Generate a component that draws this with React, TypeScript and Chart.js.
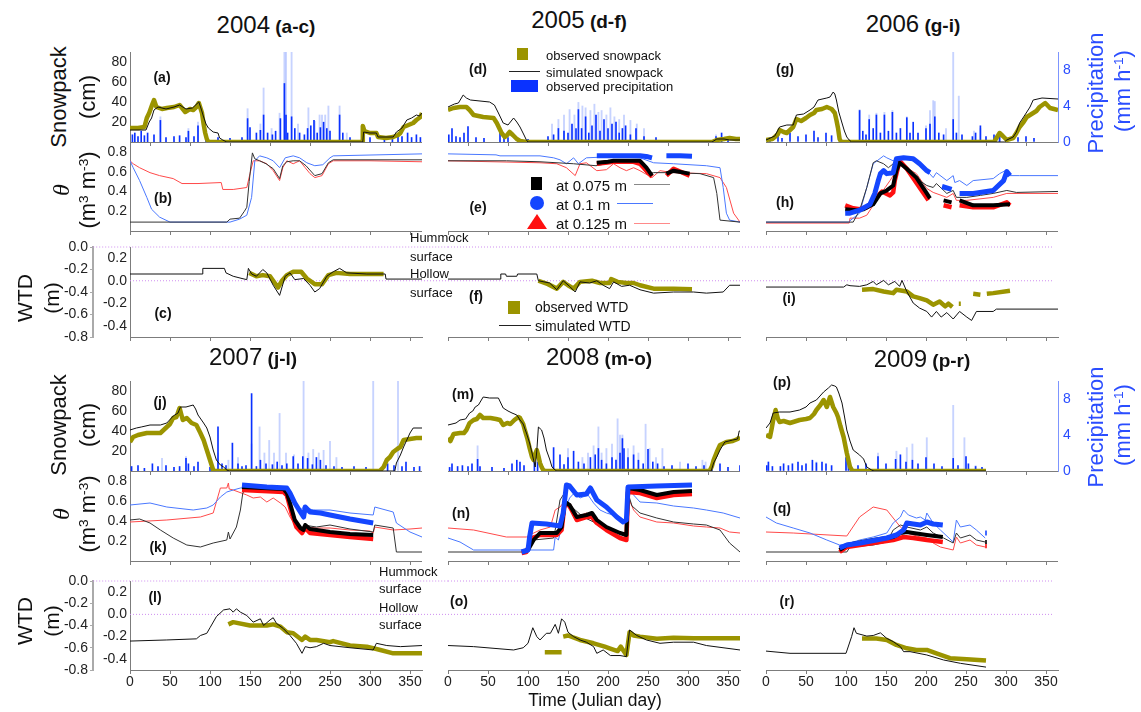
import React, { useEffect, useRef } from 'react';
import { Chart, registerables } from 'chart.js';
Chart.register(...registerables);

type Pt = [number, number | null];

// ---------- tick values ----------
const dayTicks = [0, 50, 100, 150, 200, 250, 300, 350];
const snowTicks = [20, 40, 60, 80];
const precipTicks = [0, 4, 8];
const thetaTicks = [0.2, 0.4, 0.6, 0.8];
const wtdTicks = [-0.4, -0.2, 0, 0.2];
const hummockTicks = [-0.8, -0.6, -0.4, -0.2, 0];

// reference surfaces (WTD, relative to hollow surface)
const hummockLevel = 0.3;
const hollowLevel = 0;

// ---------- 2004 ----------
const snowObs2004: Pt[] = [[0,14],[10,14],[18,15],[21,24],[24,29],[28,38],[30,42],[33,35],[40,33],[46,34],[55,35],[62,37],[66,33],[69,30],[75,33],[79,32],[83,35],[86,39],[88,34],[90,29],[92,18],[94,9],[96,3],[98,0],[290,0],[291,16],[293,11],[300,9],[308,9],[310,5],[320,4],[329,5],[335,7],[338,9],[342,15],[348,17],[354,19],[358,22],[363,25],[365,29]];
const snowSim2004: Pt[] = [[0,12],[20,12],[24,20],[27,24],[30,32],[35,35],[45,33],[55,35],[62,37],[70,33],[78,34],[86,40],[89,33],[92,25],[95,18],[98,14],[104,10],[110,9],[112,4],[116,2],[121,0],[291,0],[292,10],[300,9],[308,9],[310,5],[329,5],[333,10],[340,14],[346,22],[352,24],[358,27],[362,26],[365,29]];
const precip2004: Pt[] = [[3,0.8],[6,1],[10,0.6],[14,1.2],[18,0.7],[22,1],[30,0.8],[38,2.4],[45,0.5],[55,0.6],[62,0.7],[70,0.5],[73,1.2],[80,0.6],[85,1.8],[95,0.4],[110,0.5],[125,0.4],[140,0.5],[147,2.6],[150,1.6],[158,1],[163,1.3],[167,3],[172,1],[178,0.8],[182,1.2],[188,2.6],[193,6.5],[195,3],[197,1],[202,2.8],[206,1.5],[212,1],[218,0.8],[222,1.5],[226,1.8],[230,2.4],[234,1],[238,1.6],[242,2.2],[246,1.5],[250,1.2],[262,3],[266,1],[275,0.5],[290,0.4],[300,0.5],[318,0.6],[328,0.5],[335,0.8],[340,0.6],[347,1],[352,0.5],[358,0.8],[363,0.5]];
const precipLight2004: Pt[] = [[38,2.8],[73,1.5],[85,2.2],[147,3.7],[163,2],[167,6],[177,1.5],[187,3.2],[193,12],[195,12],[202,12],[210,2],[223,3.8],[231,2.3],[237,3],[240,3],[244,3],[248,4],[262,4],[271,1],[290,0.8]];
const thetaSim075_2004: Pt[] = [[0,0.09],[121,0.09],[125,0.12],[137,0.13],[143,0.2],[146,0.24],[149,0.5],[153,0.79],[156,0.73],[162,0.71],[170,0.68],[179,0.63],[187,0.53],[191,0.66],[196,0.7],[204,0.71],[212,0.71],[220,0.66],[231,0.56],[240,0.58],[248,0.69],[254,0.72],[365,0.72]];
const thetaSim100_2004: Pt[] = [[0,0.71],[4,0.64],[12,0.51],[21,0.34],[27,0.22],[37,0.14],[50,0.09],[125,0.09],[137,0.12],[146,0.16],[152,0.34],[156,0.71],[162,0.76],[171,0.74],[179,0.71],[187,0.64],[194,0.74],[204,0.76],[212,0.74],[221,0.69],[231,0.66],[241,0.67],[250,0.74],[254,0.76],[365,0.78]];
const thetaSim125_2004: Pt[] = [[0,0.71],[4,0.68],[12,0.64],[25,0.59],[37,0.56],[54,0.53],[65,0.48],[85,0.48],[114,0.49],[116,0.42],[129,0.42],[146,0.44],[150,0.58],[154,0.71],[162,0.71],[171,0.68],[179,0.61],[187,0.51],[191,0.64],[196,0.71],[204,0.68],[212,0.71],[219,0.64],[225,0.58],[231,0.54],[240,0.56],[248,0.68],[254,0.71],[300,0.71],[365,0.70]];
const thetaObs075_2004: Pt[] = [];
const thetaObs100_2004: Pt[] = [];
const thetaObs125_2004: Pt[] = [];
const wtdSim2004: Pt[] = [[0,0.06],[90,0.06],[91,0.11],[118,0.11],[120,0.07],[129,0.04],[140,0.02],[146,0.01],[148,0.11],[152,0.06],[158,0.04],[166,0.1],[171,0.07],[179,-0.04],[187,-0.13],[194,0.04],[200,0.07],[206,0.01],[217,0.02],[225,-0.04],[231,-0.1],[237,-0.07],[246,0.04],[254,0.08],[262,0.11],[271,0.07],[296,0.06],[319,0.06],[320,0.015],[365,0.015]];
const wtdObs2004: Pt[] = [[149,0.07],[158,0.04],[166,0.05],[175,0.04],[185,-0.06],[190,0.0],[196,0.05],[204,0.08],[214,0.08],[221,0.02],[231,-0.03],[240,-0.03],[248,0.05],[258,0.07],[275,0.06],[296,0.06],[317,0.06]];

// ---------- 2005 ----------
const snowObs2005: Pt[] = [[0,32],[7,34],[15,35],[23,35],[27,32],[32,27],[44,25],[57,24],[61,19],[64,14],[67,9],[71,5],[74,7],[77,10],[81,7],[86,3],[90,1],[98,0],[330,0],[336,2],[345,3],[352,4],[360,3],[365,3]];
const snowSim2005: Pt[] = [[0,35],[8,38],[13,39],[19,47],[23,44],[28,42],[40,41],[52,40],[58,37],[63,29],[69,19],[75,17],[78,20],[82,24],[86,20],[90,15],[95,7],[98,2],[100,0],[330,0],[336,3],[345,3],[352,2],[365,2]];
const precip2005: Pt[] = [[1,0.8],[5,1.5],[10,0.6],[15,0.5],[20,1],[25,1.7],[35,0.5],[45,0.4],[65,1.1],[70,0.8],[75,0.5],[100,0.3],[125,0.6],[132,0.8],[138,1.5],[145,1.2],[150,1],[155,2],[160,1.5],[163,3.6],[167,1.5],[172,2.8],[176,1],[180,1.8],[185,3],[190,1.2],[195,2.5],[200,1.5],[205,2],[210,2.2],[214,1],[218,1.5],[222,1.8],[228,0.8],[235,1.5],[245,0.6],[260,0.5],[335,0.6],[342,1],[350,0.5]];
const precipLight2005: Pt[] = [[130,2],[138,2.5],[145,3],[152,3.6],[158,3],[163,4.4],[168,4],[172,3.8],[178,3.5],[183,4.2],[188,3.3],[192,3.5],[198,3],[203,3.8],[208,2.8],[214,2.5],[220,3],[228,2.4],[236,2],[245,1.5],[335,0.8]];
const thetaSim075_2005: Pt[] = [[0,0.71],[73,0.71],[115,0.70],[157,0.68],[185,0.66],[198,0.68],[232,0.71],[240,0.68],[248,0.58],[257,0.59],[282,0.59],[315,0.58],[332,0.54],[336,0.38],[340,0.11],[365,0.09]];
const thetaSim100_2005: Pt[] = [[0,0.78],[60,0.77],[65,0.76],[115,0.76],[132,0.74],[140,0.72],[148,0.68],[157,0.74],[163,0.68],[173,0.74],[200,0.75],[240,0.74],[257,0.69],[282,0.68],[323,0.66],[340,0.64],[344,0.44],[348,0.18],[352,0.11],[365,0.09]];
const thetaSim125_2005: Pt[] = [[0,0.71],[115,0.69],[136,0.68],[148,0.64],[159,0.56],[165,0.68],[173,0.69],[186,0.61],[198,0.62],[207,0.68],[215,0.64],[223,0.61],[232,0.64],[240,0.61],[255,0.54],[265,0.61],[282,0.59],[323,0.58],[340,0.54],[348,0.44],[357,0.18],[365,0.09]];
const thetaObs075_2005: Pt[] = [[186,0.69],[200,0.70],[207,0.71],[240,0.71],[248,0.64],[255,0.56],[258,null],[273,0.58],[282,0.61],[302,0.58]];
const thetaObs100_2005: Pt[] = [[186,0.76],[200,0.76],[240,0.76],[250,0.75],[255,0.74],[258,null],[273,0.76],[290,0.76],[305,0.755]];
const thetaObs125_2005: Pt[] = [[186,0.68],[207,0.70],[232,0.70],[240,0.68],[255,0.55],[258,null],[273,0.56],[282,0.63],[302,0.56]];
const wtdSim2005: Pt[] = [[0,0.015],[65,0.015],[66,0.06],[72,0.06],[73,0.04],[86,0.04],[87,0.06],[111,0.06],[113,0.0],[127,-0.02],[136,-0.08],[144,0.0],[152,-0.05],[159,-0.1],[165,-0.01],[177,-0.02],[186,0.0],[194,-0.04],[202,-0.07],[207,-0.01],[217,-0.05],[227,-0.04],[240,-0.08],[257,-0.11],[282,-0.1],[307,-0.1],[323,-0.11],[344,-0.1],[352,-0.04],[365,-0.04]];
const wtdObs2005: Pt[] = [[113,0.0],[125,-0.03],[136,-0.07],[144,-0.01],[150,-0.04],[157,-0.07],[165,-0.01],[180,0.0],[190,-0.02],[202,-0.02],[204,0.015],[212,-0.01],[223,-0.02],[232,-0.02],[240,-0.04],[257,-0.07],[282,-0.07],[305,-0.075]];

// ---------- 2006 ----------
const snowObs2006: Pt[] = [[0,2],[8,3],[11,5],[15,8],[17,12],[22,10],[26,9],[30,12],[34,15],[38,23],[44,21],[50,24],[55,27],[60,29],[63,32],[70,33],[76,35],[82,33],[86,29],[88,22],[90,14],[92,3],[94,0],[285,0],[292,9],[296,6],[301,2],[309,4],[313,9],[317,15],[322,20],[326,25],[330,27],[334,29],[338,31],[342,35],[349,39],[355,34],[360,33],[365,32]];
const snowSim2006: Pt[] = [[0,2],[11,6],[17,15],[26,17],[34,17],[38,27],[47,28],[55,32],[60,35],[65,42],[76,44],[80,45],[84,50],[86,48],[88,42],[91,30],[95,19],[98,11],[101,5],[104,2],[107,0],[298,0],[301,2],[309,5],[313,10],[317,19],[322,25],[326,30],[330,35],[334,42],[345,44],[365,43]];
const precip2006: Pt[] = [[5,0.5],[15,0.8],[20,0.4],[30,1],[40,0.6],[50,0.8],[60,1.2],[65,0.5],[75,1],[82,0.7],[117,3.5],[121,1.2],[125,0.8],[129,2.5],[134,1.5],[138,3],[143,1],[148,3],[153,1.2],[158,3.3],[163,1],[168,1.5],[176,2.7],[180,1],[184,2.2],[190,1],[200,1.5],[205,2],[211,2.8],[216,1],[222,0.8],[234,2.5],[238,1],[245,0.8],[258,0.6],[262,1],[268,1.8],[275,0.6],[285,0.8],[292,1],[315,0.5],[325,0.6],[335,0.4]];
const precipLight2006: Pt[] = [[117,3.6],[129,3],[138,3.2],[148,3.3],[158,3.5],[176,2.8],[200,1.8],[205,3.5],[209,4.6],[211,4.5],[225,1.5],[234,12],[241,5.1],[260,1.2],[268,1.5],[292,1.2]];
const thetaSim075_2006: Pt[] = [[0,0.09],[109,0.09],[117,0.21],[126,0.44],[134,0.69],[138,0.71],[147,0.68],[153,0.64],[159,0.68],[167,0.69],[180,0.61],[192,0.51],[201,0.46],[209,0.44],[213,0.48],[226,0.38],[234,0.41],[238,0.34],[251,0.34],[268,0.36],[284,0.38],[301,0.41],[313,0.39],[365,0.4]];
const thetaSim100_2006: Pt[] = [[0,0.09],[103,0.09],[109,0.13],[117,0.18],[126,0.44],[134,0.68],[147,0.76],[151,0.74],[159,0.71],[167,0.74],[176,0.74],[188,0.69],[201,0.61],[209,0.54],[213,0.59],[226,0.51],[234,0.56],[236,0.49],[242,0.51],[251,0.46],[259,0.51],[284,0.53],[292,0.58],[299,0.61],[303,0.56],[317,0.56],[365,0.56]];
const thetaSim125_2006: Pt[] = [[0,0.08],[104,0.08],[105,0.13],[117,0.13],[126,0.16],[134,0.26],[142,0.36],[149,0.44],[155,0.51],[163,0.61],[167,0.69],[176,0.64],[188,0.58],[201,0.43],[209,0.39],[226,0.34],[234,0.38],[238,0.31],[251,0.31],[284,0.34],[301,0.38],[365,0.38]];
const thetaObs075_2006: Pt[] = [[99,0.22],[113,0.21],[122,0.22],[134,0.27],[143,0.38],[151,0.41],[159,0.46],[163,0.61],[167,0.69],[176,0.63],[188,0.54],[201,0.38],[205,0.33],[206,null],[222,0.31],[232,0.29],[234,null],[242,0.31],[259,0.26],[284,0.26],[305,0.27]];
const thetaObs100_2006: Pt[] = [[99,0.18],[105,0.18],[117,0.21],[130,0.27],[136,0.38],[140,0.5],[143,0.58],[147,0.61],[151,0.58],[159,0.59],[163,0.73],[172,0.74],[184,0.73],[192,0.68],[201,0.61],[205,0.59],[206,null],[220,0.45],[232,0.42],[234,null],[242,0.38],[259,0.38],[284,0.41],[297,0.51],[301,0.6],[305,0.56]];
const thetaObs125_2006: Pt[] = [[99,0.26],[109,0.23],[117,0.22],[126,0.24],[138,0.34],[145,0.40],[155,0.36],[159,0.39],[161,0.51],[167,0.71],[176,0.63],[192,0.44],[203,0.31],[206,null],[222,0.26],[232,0.24],[234,null],[242,0.26],[259,0.24],[284,0.24],[301,0.29],[305,0.26]];
const wtdSim2006: Pt[] = [[0,-0.056],[97,-0.056],[101,-0.036],[105,-0.044],[117,-0.05],[126,-0.036],[134,-0.006],[138,-0.036],[147,0.003],[153,-0.036],[161,-0.006],[167,-0.05],[170,0.003],[176,-0.095],[184,-0.198],[192,-0.243],[201,-0.273],[207,-0.323],[213,-0.273],[219,-0.323],[226,-0.283],[234,-0.34],[242,-0.273],[251,-0.323],[257,-0.353],[263,-0.273],[284,-0.273],[288,-0.252],[365,-0.252]];
const wtdObs2006: Pt[] = [[120,-0.08],[134,-0.074],[147,-0.095],[159,-0.11],[163,-0.08],[176,-0.095],[184,-0.139],[192,-0.154],[201,-0.175],[209,-0.213],[217,-0.184],[224,-0.228],[228,-0.204],[233,-0.234],[235,null],[241,-0.204],[243.5,-0.204],[244,null],[259,-0.116],[268,-0.124],[269,null],[276,-0.116],[284,-0.11],[305,-0.089]];

// ---------- 2007 ----------
const snowObs2007: Pt[] = [[0,29],[4,34],[10,36],[21,38],[30,38],[38,38],[46,44],[50,47],[54,53],[58,54],[62,63],[66,51],[71,53],[77,48],[83,46],[88,38],[92,31],[96,21],[100,11],[104,1],[106,0],[312,0],[317,4],[321,11],[325,14],[329,19],[334,22],[338,24],[342,31],[350,32],[358,33],[365,33]];
const snowSim2007: Pt[] = [[0,41],[8,43],[14,44],[25,46],[38,46],[46,48],[54,55],[60,58],[63,64],[70,64],[79,66],[82,62],[85,56],[92,48],[96,43],[100,34],[104,21],[108,11],[113,6],[117,4],[121,1],[124,0],[331,0],[333,8],[338,16],[342,24],[346,31],[350,38],[354,43],[365,43]];
const precip2007: Pt[] = [[2,0.5],[10,0.6],[18,0.3],[28,0.8],[35,0.5],[45,0.6],[55,0.4],[62,0.5],[70,1.4],[73,0.8],[80,0.5],[85,1],[100,0.4],[110,4.9],[115,0.8],[120,0.6],[128,3.1],[135,0.8],[140,0.5],[145,0.6],[152,8.6],[158,0.5],[163,1.2],[170,0.8],[178,0.7],[184,1],[190,0.6],[196,0.8],[204,1.6],[210,0.8],[216,1.6],[222,1.4],[228,0.7],[233,1.5],[238,1.2],[245,0.6],[255,0.5],[265,0.4],[280,0.5],[295,0.4],[322,0.8],[330,0.6],[340,0.5],[345,1],[355,0.4],[362,0.5]];
const precipLight2007: Pt[] = [[40,1.4],[70,1.6],[110,2],[123,1.2],[135,1.5],[152,3],[162,4.9],[168,2],[174,3.4],[180,2],[187,6.4],[195,2],[205,1.8],[217,12],[223,2],[229,2.4],[236,2],[242,2.3],[250,3.3],[258,1.5],[304,12],[335,12]];
const thetaSim075_2007: Pt[] = [[0,0.41],[12,0.42],[25,0.38],[38,0.31],[54,0.23],[71,0.16],[88,0.14],[104,0.18],[121,0.21],[123,0.29],[125,0.22],[133,0.34],[138,0.51],[141,0.68],[146,0.73],[171,0.71],[192,0.69],[200,0.54],[208,0.38],[215,0.33],[217,0.36],[233,0.34],[250,0.36],[275,0.32],[304,0.29],[306,0.36],[329,0.33],[333,0.09],[365,0.09]];
const thetaSim100_2007: Pt[] = [[0,0.56],[25,0.58],[46,0.54],[79,0.51],[96,0.53],[104,0.56],[113,0.64],[121,0.69],[129,0.71],[138,0.73],[150,0.74],[192,0.71],[200,0.64],[206,0.56],[213,0.51],[217,0.54],[229,0.51],[250,0.51],[275,0.48],[304,0.46],[306,0.54],[329,0.49],[333,0.38],[350,0.29],[365,0.24]];
const thetaSim125_2007: Pt[] = [[0,0.39],[46,0.41],[88,0.44],[104,0.48],[113,0.73],[121,0.73],[123,0.78],[124,0.72],[129,0.71],[146,0.66],[154,0.63],[163,0.64],[171,0.59],[179,0.63],[188,0.58],[194,0.54],[200,0.44],[208,0.34],[215,0.29],[217,0.34],[233,0.33],[250,0.33],[275,0.31],[300,0.30],[304,0.28],[306,0.34],[329,0.31],[350,0.32],[365,0.33]];
const thetaObs075_2007: Pt[] = [[140,0.74],[192,0.72],[196,0.68],[200,0.58],[206,0.41],[213,0.33],[217,0.31],[219,0.36],[225,0.32],[250,0.29],[275,0.27],[304,0.26]];
const thetaObs100_2007: Pt[] = [[140,0.76],[171,0.74],[196,0.73],[200,0.68],[206,0.58],[213,0.49],[217,0.44],[219,0.54],[225,0.49],[238,0.48],[250,0.46],[275,0.42],[304,0.38]];
const thetaObs125_2007: Pt[] = [[140,0.71],[192,0.69],[196,0.66],[202,0.48],[208,0.34],[215,0.28],[219,0.33],[225,0.28],[250,0.26],[275,0.24],[304,0.22]];
const wtdSim2007: Pt[] = [[0,-0.24],[46,-0.23],[83,-0.22],[88,-0.19],[96,-0.17],[100,-0.12],[108,-0.02],[117,0.04],[125,0.05],[129,0.02],[133,0.05],[138,0.02],[146,-0.01],[154,-0.07],[163,-0.04],[167,-0.1],[175,-0.05],[179,-0.03],[183,-0.08],[192,-0.13],[200,-0.19],[208,-0.26],[215,-0.35],[219,-0.29],[225,-0.3],[233,-0.29],[242,-0.26],[250,-0.28],[275,-0.3],[304,-0.32],[308,-0.26],[321,-0.28],[338,-0.29],[365,-0.28]];
const wtdObs2007: Pt[] = [[123,-0.09],[129,-0.07],[150,-0.1],[171,-0.1],[179,-0.09],[188,-0.11],[196,-0.16],[204,-0.17],[215,-0.23],[219,-0.2],[225,-0.23],[233,-0.23],[250,-0.25],[254,-0.24],[275,-0.28],[296,-0.29],[313,-0.32],[329,-0.35],[365,-0.35]];

// ---------- 2008 ----------
const snowObs2008: Pt[] = [[0,33],[3,30],[7,37],[15,38],[20,38],[23,41],[27,48],[32,51],[36,52],[40,56],[44,53],[53,53],[60,52],[65,51],[69,46],[74,48],[78,47],[83,51],[88,54],[90,53],[94,47],[96,41],[99,33],[102,23],[105,14],[107,11],[109,17],[111,21],[113,15],[115,8],[117,4],[119,1],[121,0],[327,0],[330,5],[332,11],[336,19],[340,26],[348,29],[356,30],[362,32],[365,34]];
const snowSim2008: Pt[] = [[0,46],[10,48],[15,51],[22,52],[27,58],[31,60],[34,64],[38,66],[44,74],[52,73],[63,73],[69,63],[75,60],[80,58],[86,56],[90,51],[94,47],[98,38],[102,28],[105,18],[109,4],[111,20],[113,44],[117,41],[120,33],[123,21],[127,12],[130,4],[134,1],[136,0],[329,0],[332,8],[336,14],[340,21],[346,29],[356,31],[362,32],[364,40],[365,40]];
const precip2008: Pt[] = [[2,0.4],[5,0.8],[12,0.5],[18,0.6],[25,0.5],[30,0.8],[37,1.3],[40,0.5],[55,0.4],[70,0.3],[80,0.8],[86,1.2],[90,1],[95,0.6],[108,1.5],[112,1],[132,2.6],[140,1.8],[145,0.7],[150,1.5],[157,2.2],[163,1],[170,0.8],[178,1.5],[184,1.8],[188,2.5],[192,1.2],[198,0.8],[205,1.5],[210,1.2],[215,2],[218,3.6],[220,2.5],[225,1.5],[232,1.8],[238,1.2],[244,0.8],[250,2.4],[256,1],[262,0.8],[270,0.5],[280,0.6],[300,0.8],[310,0.5],[320,0.6],[330,1],[340,0.8],[350,0.4],[365,0.6]];
const precipLight2008: Pt[] = [[37,2.8],[150,2.5],[168,1.5],[175,2],[182,2.8],[188,4.9],[192,2],[198,2.5],[205,3],[212,5.8],[215,4],[218,4],[225,2.5],[232,2.8],[238,2],[247,5.2],[252,2.5],[260,1.5],[268,2.5],[290,1],[318,1.2],[322,1]];
const thetaSim075_2008: Pt[] = [[0,0.09],[100,0.09],[107,0.21],[132,0.23],[134,0.31],[140,0.61],[144,0.66],[150,0.58],[159,0.51],[169,0.44],[182,0.39],[190,0.34],[207,0.29],[223,0.28],[225,0.68],[230,0.55],[240,0.48],[261,0.43],[282,0.39],[307,0.37],[323,0.36],[340,0.31],[352,0.18],[365,0.09]];
const thetaSim100_2008: Pt[] = [[0,0.23],[15,0.19],[32,0.11],[132,0.11],[134,0.24],[138,0.21],[142,0.34],[146,0.51],[152,0.63],[159,0.69],[165,0.63],[175,0.66],[182,0.58],[190,0.51],[198,0.48],[215,0.44],[223,0.39],[225,0.73],[232,0.66],[240,0.59],[261,0.58],[282,0.55],[307,0.53],[323,0.51],[344,0.48],[365,0.43]];
const thetaSim125_2008: Pt[] = [[0,0.33],[32,0.31],[73,0.24],[98,0.24],[102,0.26],[115,0.31],[128,0.34],[134,0.51],[140,0.54],[144,0.58],[148,0.59],[152,0.51],[161,0.44],[173,0.48],[182,0.41],[190,0.34],[198,0.31],[207,0.28],[215,0.24],[223,0.23],[225,0.64],[232,0.51],[240,0.44],[261,0.39],[282,0.38],[307,0.35],[323,0.34],[340,0.33],[352,0.29],[365,0.28]];
const thetaObs075_2008: Pt[] = [[94,0.09],[100,0.11],[107,0.21],[115,0.28],[136,0.28],[142,0.34],[146,0.59],[152,0.56],[161,0.44],[173,0.46],[180,0.48],[186,0.41],[198,0.34],[215,0.28],[223,0.26],[225,0.73],[240,0.71],[261,0.66],[282,0.69],[305,0.70]];
const thetaObs100_2008: Pt[] = [[92,0.09],[100,0.11],[102,0.24],[105,0.38],[123,0.37],[140,0.35],[144,0.48],[148,0.76],[152,0.75],[161,0.66],[173,0.67],[178,0.73],[186,0.61],[198,0.54],[211,0.44],[219,0.39],[223,0.41],[225,0.74],[261,0.75],[305,0.76]];
const thetaObs125_2008: Pt[] = [[92,0.08],[98,0.09],[105,0.23],[115,0.26],[136,0.26],[142,0.31],[146,0.58],[152,0.55],[161,0.41],[173,0.44],[180,0.44],[186,0.38],[198,0.31],[215,0.23],[223,0.21],[225,0.69],[240,0.68],[261,0.63],[282,0.66],[305,0.67]];
const wtdSim2008: Pt[] = [[0,-0.28],[32,-0.29],[82,-0.32],[94,-0.3],[100,-0.26],[106,-0.12],[111,-0.2],[115,-0.23],[123,-0.17],[128,-0.17],[134,-0.09],[138,-0.17],[142,-0.04],[146,-0.07],[150,-0.16],[157,-0.2],[165,-0.23],[173,-0.25],[182,-0.29],[186,-0.35],[194,-0.32],[203,-0.37],[215,-0.37],[223,-0.38],[227,-0.14],[236,-0.19],[248,-0.23],[265,-0.26],[282,-0.25],[307,-0.25],[323,-0.28],[365,-0.32]];
const wtdObs2008: Pt[] = [[121,-0.34],[142,-0.34],[142.5,null],[144,-0.2],[150,-0.19],[165,-0.23],[182,-0.26],[196,-0.29],[202,-0.305],[212,-0.33],[216,-0.29],[223,-0.365],[227,-0.16],[232,-0.19],[240,-0.2],[261,-0.22],[282,-0.21],[307,-0.215],[365,-0.215]];

// ---------- 2009 ----------
const snowObs2009: Pt[] = [[0,36],[5,34],[7,42],[9,51],[12,61],[15,52],[17,49],[22,50],[30,48],[38,50],[42,51],[50,52],[55,53],[60,57],[63,61],[68,66],[72,71],[76,64],[80,74],[84,64],[88,58],[90,54],[93,45],[97,34],[101,18],[105,4],[108,0],[275,0]];
const snowSim2009: Pt[] = [[0,43],[5,48],[9,58],[17,59],[30,59],[42,61],[50,64],[55,68],[63,71],[72,79],[78,83],[82,86],[86,85],[88,84],[91,78],[95,68],[98,55],[101,41],[105,30],[109,21],[117,16],[122,12],[126,4],[132,1],[135,0],[275,0]];
const precip2009: Pt[] = [[1,0.6],[3,1],[8,0.5],[18,0.5],[22,0.8],[28,0.6],[33,0.8],[40,1],[45,0.6],[50,0.8],[58,1.2],[63,0.9],[70,1],[75,0.8],[82,0.6],[100,1.5],[103,0.8],[115,0.6],[125,0.8],[140,1.6],[150,0.8],[162,1.3],[168,1.8],[175,1],[183,1.2],[190,0.8],[200,1.5],[210,0.8],[220,0.5],[234,1.4],[240,0.6],[250,1.6],[253,0.8],[262,0.5],[270,0.4]];
const precipLight2009: Pt[] = [[63,1],[100,1],[140,2],[163,2.2],[176,2.6],[183,3],[201,3.7],[234,7.3],[248,3.7],[262,0.6]];
const thetaSim075_2009: Pt[] = [[0,0.09],[101,0.09],[105,0.14],[134,0.16],[151,0.19],[159,0.31],[168,0.36],[176,0.34],[193,0.31],[201,0.34],[209,0.28],[222,0.23],[234,0.18],[238,0.28],[243,0.23],[255,0.26],[263,0.21],[274,0.19]];
const thetaSim100_2009: Pt[] = [[0,0.44],[13,0.38],[34,0.33],[55,0.28],[76,0.21],[92,0.16],[101,0.17],[117,0.21],[134,0.24],[151,0.28],[159,0.38],[168,0.44],[172,0.51],[178,0.46],[188,0.43],[193,0.44],[199,0.41],[201,0.48],[209,0.38],[218,0.31],[234,0.19],[238,0.41],[243,0.34],[255,0.36],[263,0.31],[274,0.23]];
const thetaSim125_2009: Pt[] = [[0,0.29],[34,0.28],[101,0.25],[117,0.44],[134,0.54],[151,0.51],[168,0.34],[176,0.28],[193,0.24],[201,0.23],[209,0.18],[218,0.14],[234,0.11],[238,0.24],[243,0.18],[255,0.21],[263,0.16],[274,0.14]];
const thetaObs075_2009: Pt[] = [[92,0.11],[101,0.16],[134,0.21],[159,0.24],[168,0.28],[176,0.29],[184,0.28],[201,0.26],[221,0.24],[222,null],[274,0.19],[276,0.19]];
const thetaObs100_2009: Pt[] = [[92,0.13],[101,0.16],[118,0.18],[151,0.23],[163,0.26],[172,0.31],[176,0.38],[184,0.37],[193,0.36],[201,0.39],[209,0.37],[221,0.36],[222,null],[274,0.28],[276,0.28]];
const thetaObs125_2009: Pt[] = [[92,0.09],[101,0.14],[134,0.18],[159,0.21],[172,0.24],[184,0.23],[201,0.21],[221,0.19],[222,null],[274,0.15],[276,0.15]];
const wtdSim2009: Pt[] = [[0,-0.33],[30,-0.35],[100,-0.35],[107,-0.2],[110,-0.12],[113,-0.17],[126,-0.195],[134,-0.19],[143,-0.166],[151,-0.216],[159,-0.245],[168,-0.29],[172,-0.335],[180,-0.335],[201,-0.365],[222,-0.41],[243,-0.44],[275,-0.474]];
const wtdObs2009: Pt[] = [[120,-0.216],[138,-0.216],[151,-0.23],[163,-0.275],[176,-0.305],[188,-0.32],[201,-0.32],[213,-0.35],[230,-0.394],[251,-0.403],[275,-0.415]];

// ---------- styling / layout ----------
const FONT = 'Arial, "Liberation Sans", Helvetica, sans-serif';
const AXIS = '#7c7c7c';
const OLIVE = '#9b9400';
const DARK_BLUE = '#0a32ff';
const LIGHT_BLUE = 'rgba(70,110,255,0.30)';
const SIM_BLUE = '#4a78ff';
const SIM_RED = '#ff4a4a';
const OBS_BLUE = '#1446ff';
const OBS_RED = '#ff1010';
const DOT = '#cf8ef0';
const PRECIP_AXIS = '#7d95ff';
const PRECIP_LABEL = '#2a4dff';

const COLX = [130, 448, 766];
const PW = 292;
const ROWS = [
  { snow: [52, 142], theta: [142, 231], wtd: [247, 337] },
  { snow: [381, 471], theta: [471, 561], wtd: [581, 670] },
];
// reference line extents (days), per column, so the dotted lines cross the gaps
const refSpan = [[-46, 397.5], [0, 397.5], [0, 359]];
const hollowSpan = [[0, 397.5], [0, 397.5], [0, 359]];

const YEARS = [
  { year: '2004', tag: '(a-c)', col: 0, row: 0, L: ['(a)', '(b)', '(c)'], snowObs: snowObs2004, snowSim: snowSim2004, precip: precip2004, precipLight: precipLight2004, s075: thetaSim075_2004, s100: thetaSim100_2004, s125: thetaSim125_2004, o075: thetaObs075_2004, o100: thetaObs100_2004, o125: thetaObs125_2004, wObs: wtdObs2004, wSim: wtdSim2004 },
  { year: '2005', tag: '(d-f)', col: 1, row: 0, L: ['(d)', '(e)', '(f)'], snowObs: snowObs2005, snowSim: snowSim2005, precip: precip2005, precipLight: precipLight2005, s075: thetaSim075_2005, s100: thetaSim100_2005, s125: thetaSim125_2005, o075: thetaObs075_2005, o100: thetaObs100_2005, o125: thetaObs125_2005, wObs: wtdObs2005, wSim: wtdSim2005 },
  { year: '2006', tag: '(g-i)', col: 2, row: 0, L: ['(g)', '(h)', '(i)'], snowObs: snowObs2006, snowSim: snowSim2006, precip: precip2006, precipLight: precipLight2006, s075: thetaSim075_2006, s100: thetaSim100_2006, s125: thetaSim125_2006, o075: thetaObs075_2006, o100: thetaObs100_2006, o125: thetaObs125_2006, wObs: wtdObs2006, wSim: wtdSim2006 },
  { year: '2007', tag: '(j-l)', col: 0, row: 1, L: ['(j)', '(k)', '(l)'], snowObs: snowObs2007, snowSim: snowSim2007, precip: precip2007, precipLight: precipLight2007, s075: thetaSim075_2007, s100: thetaSim100_2007, s125: thetaSim125_2007, o075: thetaObs075_2007, o100: thetaObs100_2007, o125: thetaObs125_2007, wObs: wtdObs2007, wSim: wtdSim2007 },
  { year: '2008', tag: '(m-o)', col: 1, row: 1, L: ['(m)', '(n)', '(o)'], snowObs: snowObs2008, snowSim: snowSim2008, precip: precip2008, precipLight: precipLight2008, s075: thetaSim075_2008, s100: thetaSim100_2008, s125: thetaSim125_2008, o075: thetaObs075_2008, o100: thetaObs100_2008, o125: thetaObs125_2008, wObs: wtdObs2008, wSim: wtdSim2008 },
  { year: '2009', tag: '(p-r)', col: 2, row: 1, L: ['(p)', '(q)', '(r)'], snowObs: snowObs2009, snowSim: snowSim2009, precip: precip2009, precipLight: precipLight2009, s075: thetaSim075_2009, s100: thetaSim100_2009, s125: thetaSim125_2009, o075: thetaObs075_2009, o100: thetaObs100_2009, o125: thetaObs125_2009, wObs: wtdObs2009, wSim: wtdSim2009 },
];

const titlePos = [[266, 25], [579, 20], [913, 24], [253, 357], [599, 357], [922, 359]];
const letterPos = [
  [[162, 77], [163, 198], [163, 313]],
  [[478, 69], [478, 207], [476, 296]],
  [[785, 69], [785, 202], [789, 298]],
  [[160, 402], [158, 547], [155, 597]],
  [[463, 394], [461, 513], [459, 601]],
  [[782, 382], [782, 508], [787, 601]],
];

// ---------- chart helpers ----------
const zeroPad = (s: any) => { s.paddingTop = 0; s.paddingBottom = 0; s.paddingLeft = 0; s.paddingRight = 0; };
const setTicks = (vals: number[]) => (s: any) => { s.ticks = vals.map((v) => ({ value: v })); };
const fmt1 = (v: any) => (Math.abs(Number(v)) < 1e-9 ? 0 : Number(v)).toFixed(1);

function xAxis(labels: boolean, h: number) {
  return {
    type: 'linear', position: 'bottom', min: 0, max: 365, offset: false,
    afterBuildTicks: setTicks(dayTicks),
    afterFit: (s: any) => { s.height = h; zeroPad(s); },
    grid: { drawOnChartArea: false, drawTicks: true, tickLength: 4, color: AXIS, lineWidth: 1 },
    border: { display: true, color: AXIS, width: 1 },
    ticks: { autoSkip: false, maxRotation: 0, minRotation: 0, padding: 0, color: '#222', font: { family: FONT, size: 14 }, callback: (v: any) => (labels ? String(v) : '') },
  };
}

function yAxis(o: any) {
  const tl = o.tickLen || 0;
  return {
    type: 'linear', position: o.position, min: o.min, max: o.max, display: o.show, weight: o.weight || 0,
    afterBuildTicks: setTicks(o.ticks),
    afterFit: o.show ? (s: any) => { s.width = o.width; zeroPad(s); } : undefined,
    grid: { drawOnChartArea: false, drawTicks: tl > 0, tickLength: tl, color: o.border || AXIS },
    border: { display: true, color: o.border || AXIS, width: o.borderW || 1 },
    ticks: { padding: o.pad ?? 3, color: o.color || '#222', font: { family: FONT, size: 14 }, callback: o.fmt },
  };
}

const xy = (a: Pt[]) => a.map(([x, y]) => ({ x, y }));
const ln = (a: Pt[], color: string, width: number, order: number, extra: any = {}) => ({
  type: 'line', data: xy(a), borderColor: color, backgroundColor: color, borderWidth: width,
  pointRadius: 0, pointHoverRadius: 0, fill: false, tension: 0, spanGaps: false, order,
  yAxisID: 'y', xAxisID: 'x', borderJoinStyle: 'round', ...extra,
});
const br = (a: Pt[], color: string, order: number, thick: number) => ({
  type: 'bar', data: xy(a), backgroundColor: color, borderWidth: 0, barThickness: thick,
  grouped: false, order, yAxisID: 'yp', xAxisID: 'x',
});

type Spec = { key: string; x: number; y: number; w: number; h: number; pad: any; datasets: any[]; scales: any };

function build(key: string, l: number, t: number, b: number, m: any, ax: any, datasets: any[], scales: any): Spec {
  return {
    key, x: l - m.ml, y: t - m.mt, w: PW + m.ml + m.mr, h: b - t + m.mt + m.mb,
    pad: { left: m.ml - ax.left, right: m.mr - ax.right, top: m.mt, bottom: m.mb - ax.bottom },
    datasets, scales,
  };
}

function buildAll(): Spec[] {
  const out: Spec[] = [];
  YEARS.forEach((Y) => {
    const l = COLX[Y.col];
    const R = ROWS[Y.row];
    const c0 = Y.col === 0;
    const c2 = Y.col === 2;
    // snowpack + precipitation
    {
      const [t, b] = R.snow;
      const ml = c0 ? 46 : 0;
      const mr = c2 ? 34 : 0;
      const scales = {
        x: xAxis(false, 10),
        y: yAxis({ min: 0, max: 90, ticks: snowTicks, show: c0, width: 46, position: 'left', fmt: (v: any) => String(v) }),
        yp: yAxis({ min: 0, max: 10, ticks: precipTicks, show: c2, width: 34, position: 'right', fmt: (v: any) => String(v), color: PRECIP_LABEL, border: PRECIP_AXIS, pad: 5 }),
      };
      const ds = [
        br(Y.precipLight, LIGHT_BLUE, 12, 1.2),
        br(Y.precip, DARK_BLUE, 11, 1),
        ln(Y.snowObs, OLIVE, 4.5, 2),
        ln(Y.snowSim, '#111', 1, 1),
      ];
      out.push(build('s' + Y.year, l, t, b, { ml, mr, mt: 8, mb: 10 }, { left: ml, right: mr, bottom: 10 }, ds, scales));
    }
    // soil moisture
    {
      const [t, b] = R.theta;
      const ml = c0 ? 46 : 0;
      const scales = {
        x: xAxis(false, 10),
        y: yAxis({ min: 0, max: 0.9, ticks: thetaTicks, show: c0, width: 46, position: 'left', fmt: fmt1 }),
      };
      const ds = [
        ln(Y.s075, '#333', 1, 10),
        ln(Y.s100, SIM_BLUE, 1, 10),
        ln(Y.s125, SIM_RED, 1, 10),
        ln(Y.o125, OBS_RED, 4.5, 3),
        ln(Y.o075, '#000', 4, 2),
        ln(Y.o100, OBS_BLUE, 5, 1),
      ];
      out.push(build('t' + Y.year, l, t, b, { ml, mr: 0, mt: 8, mb: 10 }, { left: ml, right: 0, bottom: 10 }, ds, scales));
    }
    // water table depth
    {
      const [t, b] = R.wtd;
      const bottomRow = Y.row === 1;
      const xh = bottomRow ? 24 : 10;
      const ml = c0 ? 79 : 12;
      const axL = c0 ? 79 : 0;
      const mr = c2 ? 14 : 30;
      const scales = {
        x: xAxis(bottomRow, xh),
        y: yAxis({ min: -0.5, max: 0.3, ticks: wtdTicks, show: c0, width: 37, position: 'left', fmt: fmt1, weight: 0 }),
        yh: yAxis({ min: -0.8, max: 0, ticks: hummockTicks, show: c0, width: 42, position: 'left', fmt: fmt1, weight: 1, border: '#aaaaaa', borderW: 2, tickLen: 3, pad: 2 }),
      };
      const hs = refSpan[Y.col];
      const ls = hollowSpan[Y.col];
      const ds = [
        ln([[hs[0], hummockLevel], [hs[1], hummockLevel]], DOT, 1, 20, { borderDash: [1, 2], clip: false }),
        ln([[ls[0], hollowLevel], [ls[1], hollowLevel]], DOT, 1, 20, { borderDash: [1, 2], clip: false }),
        ln(Y.wObs, OLIVE, 4.5, 2),
        ln(Y.wSim, '#111', 1, 1),
      ];
      out.push(build('w' + Y.year, l, t, b, { ml, mr, mt: 10, mb: xh }, { left: axL, right: 0, bottom: xh }, ds, scales));
    }
  });
  return out;
}

function Panel({ spec }: { spec: Spec }) {
  const ref = useRef<HTMLCanvasElement>(null);
  useEffect(() => {
    const chart = new Chart(ref.current as HTMLCanvasElement, {
      type: 'line',
      data: { datasets: spec.datasets as any },
      options: {
        animation: false,
        responsive: false,
        maintainAspectRatio: false,
        devicePixelRatio: 1,
        events: [],
        layout: { padding: spec.pad },
        plugins: { legend: { display: false }, tooltip: { enabled: false }, title: { display: false } },
        scales: spec.scales,
      } as any,
    });
    return () => chart.destroy();
  }, [spec]);
  return (
    <canvas ref={ref} width={spec.w} height={spec.h}
      style={{ position: 'absolute', left: spec.x, top: spec.y, width: spec.w, height: spec.h }} />
  );
}

const T = ({ x, y, size = 14, bold = false, italic = false, color = '#111', rot = false, left = false, family = FONT, children }: any) => (
  <div style={{
    position: 'absolute', left: x, top: y,
    transform: `translate(${left ? '0' : '-50%'}, -50%)${rot ? ' rotate(-90deg)' : ''}`,
    fontSize: size, fontWeight: bold ? 'bold' : 'normal', fontStyle: italic ? 'italic' : 'normal',
    color, whiteSpace: 'nowrap', lineHeight: 1, fontFamily: family,
  }}>{children}</div>
);

const sup = (s: string) => <sup style={{ fontSize: '0.62em', verticalAlign: '0.5em', lineHeight: 0 }}>{s}</sup>;

const SPECS = buildAll();

export default function App() {
  const rowLabels = [
    { snow: 97, theta: 190, wtd: 298, precip: 93 },
    { snow: 425, theta: 514, wtd: 621, precip: 427 },
  ];
  return (
    <div style={{ position: 'absolute', left: 0, top: 0, width: 1141, height: 712, background: '#fff', overflow: 'hidden', fontFamily: FONT }}>
      {SPECS.map((s) => <Panel key={s.key} spec={s} />)}

      {YEARS.map((Y, i) => (
        <div key={'title' + i} style={{ position: 'absolute', left: titlePos[i][0], top: titlePos[i][1], transform: 'translate(-50%,-50%)', whiteSpace: 'nowrap', lineHeight: 1, color: '#111' }}>
          <span style={{ fontSize: 24 }}>{Y.year}</span>
          <span style={{ fontSize: 19, fontWeight: 'bold' }}> {Y.tag}</span>
        </div>
      ))}
      {YEARS.map((Y, i) => Y.L.map((lab, j) => (
        <T key={'L' + i + j} x={letterPos[i][j][0]} y={letterPos[i][j][1]} size={14} bold>{lab}</T>
      )))}

      {rowLabels.map((r, i) => (
        <React.Fragment key={'rl' + i}>
          <T x={59} y={r.snow} size={22} rot>Snowpack</T>
          <T x={88} y={r.snow} size={22} rot>(cm)</T>
          <T x={61} y={r.theta} size={24} rot italic family={'"Liberation Serif", "Times New Roman", serif'}>θ</T>
          <T x={88} y={r.theta} size={22} rot>(m{sup('3')} m{sup('-3')})</T>
          <T x={24} y={r.wtd} size={21} rot>WTD</T>
          <T x={51} y={r.wtd} size={21} rot>(m)</T>
          <T x={1096} y={r.precip} size={22} rot color={PRECIP_LABEL}>Precipitation</T>
          <T x={1123} y={r.precip - 2} size={22} rot color={PRECIP_LABEL}>(mm h{sup('-1')})</T>
        </React.Fragment>
      ))}

      {/* surface annotations */}
      <T x={410} y={237} size={13} left>Hummock</T>
      <T x={410} y={256} size={13} left>surface</T>
      <T x={410} y={273} size={13} left>Hollow</T>
      <T x={410} y={292} size={13} left>surface</T>
      <T x={379} y={571} size={13} left>Hummock</T>
      <T x={379} y={588} size={13} left>surface</T>
      <T x={379} y={607} size={13} left>Hollow</T>
      <T x={379} y={624} size={13} left>surface</T>

      {/* snow legend */}
      <div style={{ position: 'absolute', left: 517, top: 48, width: 11, height: 12, background: OLIVE }} />
      <T x={546} y={55} size={13} left>observed snowpack</T>
      <div style={{ position: 'absolute', left: 509, top: 71, width: 31, height: 1, background: '#222' }} />
      <T x={546} y={72} size={13} left>simulated snowpack</T>
      <div style={{ position: 'absolute', left: 511, top: 80, width: 27, height: 12, background: DARK_BLUE }} />
      <T x={546} y={86} size={13} left>observed precipitation</T>

      {/* theta legend */}
      <div style={{ position: 'absolute', left: 531, top: 177, width: 11, height: 13, background: '#000' }} />
      <T x={556} y={185} size={15} left>at 0.075 m</T>
      <div style={{ position: 'absolute', left: 634, top: 184, width: 36, height: 1, background: '#888' }} />
      <div style={{ position: 'absolute', left: 530, top: 196, width: 14, height: 14, borderRadius: '50%', background: OBS_BLUE }} />
      <T x={556} y={204} size={15} left>at 0.1 m</T>
      <div style={{ position: 'absolute', left: 617, top: 203, width: 36, height: 1, background: SIM_BLUE }} />
      <div style={{ position: 'absolute', left: 527, top: 214, width: 0, height: 0, borderLeft: '10px solid transparent', borderRight: '10px solid transparent', borderBottom: '15px solid ' + OBS_RED }} />
      <T x={556} y={223} size={15} left>at 0.125 m</T>
      <div style={{ position: 'absolute', left: 634, top: 223, width: 36, height: 1, background: '#ff8a8a' }} />

      {/* WTD legend */}
      <div style={{ position: 'absolute', left: 508, top: 301, width: 12, height: 13, background: OLIVE }} />
      <T x={535} y={307} size={14} left>observed WTD</T>
      <div style={{ position: 'absolute', left: 499, top: 325, width: 32, height: 1, background: '#222' }} />
      <T x={535} y={326} size={14} left>simulated WTD</T>

      <T x={595} y={701} size={17.5}>Time (Julian day)</T>
    </div>
  );
}
